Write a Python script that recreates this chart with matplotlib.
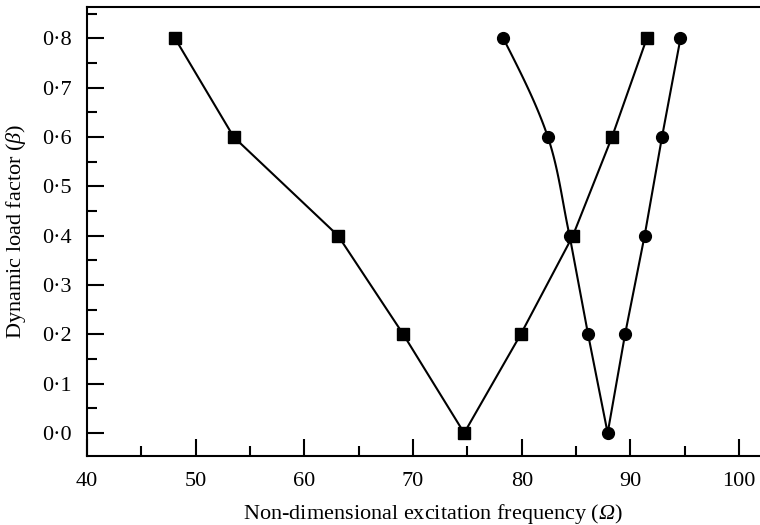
import matplotlib
matplotlib.use("Agg")
import matplotlib.pyplot as plt
import numpy as np
from matplotlib.ticker import MultipleLocator, FuncFormatter

# load factor levels, shared by both curves
beta = [0.8, 0.6, 0.4, 0.2, 0.0, 0.2, 0.4, 0.6, 0.8]

# square markers
omega_sq = [48.1, 53.5, 63.1, 69.1, 74.7, 79.9, 84.7, 88.3, 91.5]
# circle markers
omega_ci = [78.3, 82.4, 84.4, 86.1, 87.9, 89.5, 91.3, 92.9, 94.6]

plt.rcParams["font.family"] = ["Liberation Serif", "DejaVu Serif"]
# math only holds the greek symbols; mathtext forces greek capitals to "rm",
# so point rm at the italic face too
plt.rcParams["mathtext.fontset"] = "custom"
plt.rcParams["mathtext.rm"] = "Liberation Serif:italic"
plt.rcParams["mathtext.it"] = "Liberation Serif:italic"


def catmull(x, y, n=30):
    """Catmull-Rom curve through the points (used for the bent upper branch)."""
    p = np.column_stack([x, y]).astype(float)
    # natural-ish end: start tangent leans away from the next tangent
    p = np.vstack([p[0] - 1.5 * (p[1] - p[0]) + 0.5 * (p[2] - p[1]), p, 2 * p[-1] - p[-2]])
    out = []
    t = np.linspace(0, 1, n, endpoint=False)[:, None]
    for i in range(1, len(p) - 2):
        p0, p1, p2, p3 = p[i - 1], p[i], p[i + 1], p[i + 2]
        seg = 0.5 * ((2 * p1) + (-p0 + p2) * t
                     + (2 * p0 - 5 * p1 + 4 * p2 - p3) * t ** 2
                     + (-p0 + 3 * p1 - 3 * p2 + p3) * t ** 3)
        out.append(seg)
    out.append(p[-2][None, :])
    out = np.vstack(out)
    return out[:, 0], out[:, 1]


fig = plt.figure(figsize=(7.6, 5.25), dpi=100)
ax = fig.add_axes([0.1145, 0.131, 0.911, 0.856])

# squares: straight segments
ax.plot(omega_sq, beta, color="black", lw=1.5, marker="s", ms=8.5)

# circles: upper-left branch curved, rest straight
cx, cy = catmull(omega_ci[:3], beta[:3])
ax.plot(cx, cy, color="black", lw=1.5)
ax.plot(omega_ci[2:], beta[2:], color="black", lw=1.5)
ax.plot(omega_ci, beta, ls="none", color="black", marker="o", ms=8.5)

ax.set_xlim(40, 103.7)
ax.set_ylim(-0.047, 0.864)

ax.xaxis.set_major_locator(MultipleLocator(10))
ax.xaxis.set_minor_locator(MultipleLocator(5))
ax.yaxis.set_major_locator(MultipleLocator(0.1))
ax.yaxis.set_minor_locator(MultipleLocator(0.05))
ax.yaxis.set_major_formatter(FuncFormatter(lambda v, pos: f"{v:.1f}".replace(".", "\u00b7")))

ax.tick_params(which="major", direction="in", length=12, width=1.5, labelsize=16)
ax.tick_params(which="minor", direction="in", length=7, width=1.5)
ax.tick_params(axis="x", pad=11)
ax.tick_params(axis="y", pad=11)
ax.spines["right"].set_visible(False)
for s in ["left", "bottom", "top"]:
    ax.spines[s].set_linewidth(1.5)

ax.set_xlabel(r"Non-dimensional excitation frequency ($\Omega$)", fontsize=16, labelpad=8)
ax.set_ylabel(r"Dynamic load factor ($\beta$)", fontsize=16, labelpad=10)

fig.savefig("out.png", dpi=100)
